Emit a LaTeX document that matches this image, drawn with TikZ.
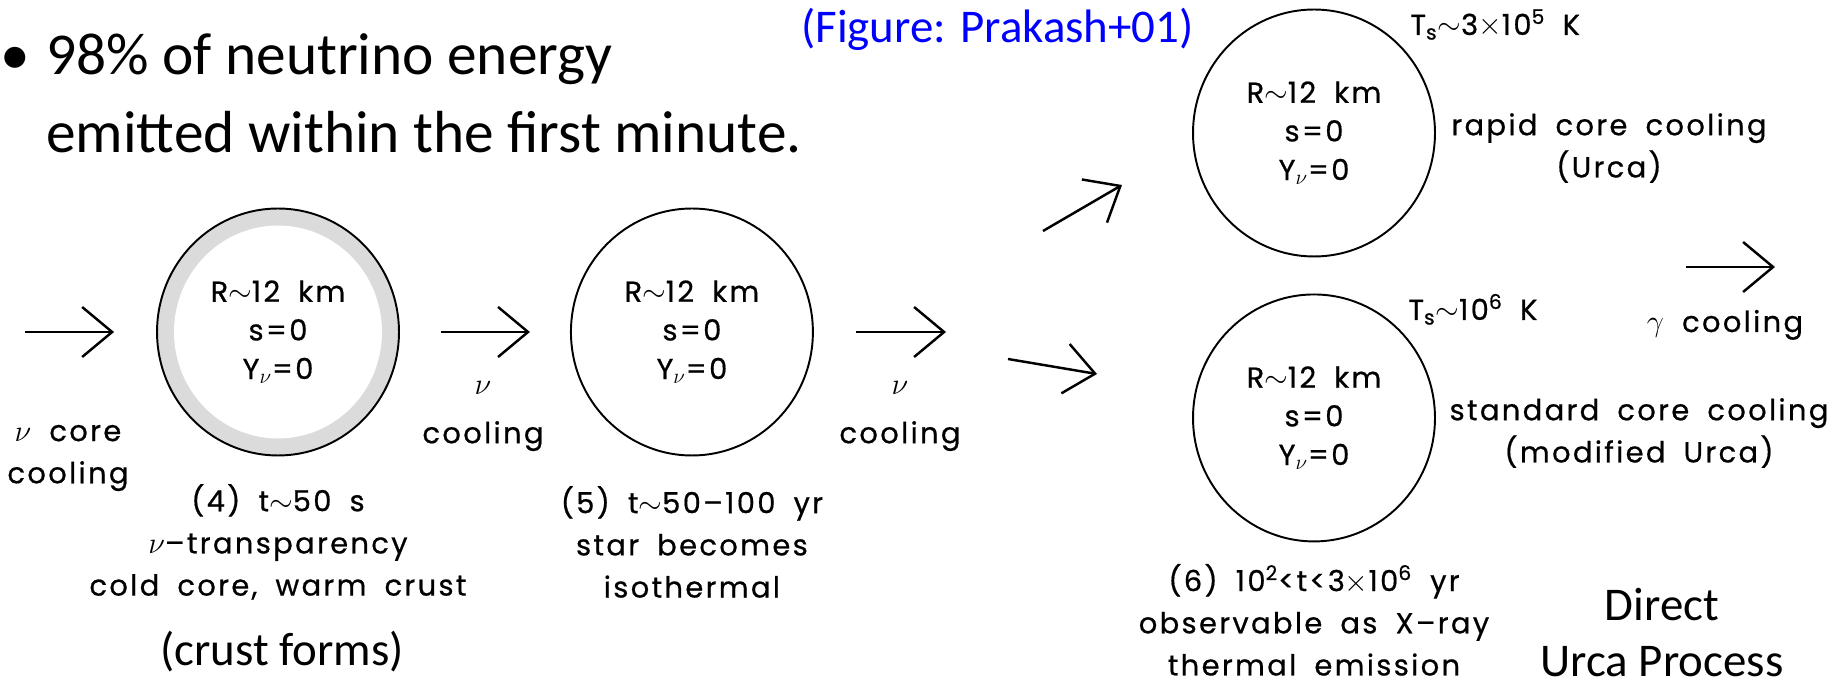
\documentclass[tikz,border=0pt]{standalone}
\usepackage{fontspec}
\setmainfont{Carlito}
\newfontfamily\figfont[LetterSpace=8, WordSpace=1.8, FakeBold=0.6]{Poppins}
\usepackage{tikz}
\usetikzlibrary{shapes.geometric, arrows.meta, positioning}

\newcommand{\tsim}{\ensuremath{\sim}}

\begin{document}
\begin{tikzpicture}[x=0.02cm, y=-0.02cm, on grid,
        ns/.style={ellipse, draw, line width=1.1pt, minimum width=4.84cm, minimum height=4.94cm,
            inner sep=0pt, align=center, font=\figfont\fontsize{16.5}{22}\selectfont},
        crust/.style={fill=black!14, path picture={\fill[white] (path picture bounding box.center)
            ellipse [x radius=2.08cm, y radius=2.13cm];}},
        lbl/.style={align=center, inner sep=0pt, font=\figfont\fontsize{16.5}{24}\selectfont},
        flow/.style={-{Straight Barb[length=0.6cm, width=1cm]}, line width=1.4pt},
        slide/.style={inner sep=0pt, font=\fontsize{33.8}{44}\selectfont},
        note/.style={inner sep=0pt, align=center, font=\fontsize{26.7}{31.9}\selectfont}]
    \useasboundingbox (0,0) rectangle (1840,685);

    % slide text
    \node[slide, anchor=base west] (dot) at (0,75) {•};
    \node[slide, anchor=base west] (line1) at (46,75) {98\% of neutrino energy};
    \node[slide, anchor=base west] (line2) at (46,153) {emitted within the first minute.};
    \node[note, anchor=base west, text=blue] (ref) at (801,43) {(Figure: Prakash+01)};

    % the stars
    \node[ns, crust] (s4) at (278,332) {R\tsim12 km\\s=0\\Y\textsubscript{$\nu$}=0};
    \node[ns] (s5) [right=8.28cm of s4] {R\tsim12 km\\s=0\\Y\textsubscript{$\nu$}=0};
    \node[ns] (s6a) at (1314,133) {R\tsim12 km\\s=0\\Y\textsubscript{$\nu$}=0};
    \node[ns] (s6b) [below=5.7cm of s6a] {R\tsim12 km\\s=0\\Y\textsubscript{$\nu$}=0};

    \coordinate (in) at (25,332);
    \coordinate (out) at (946,332);
    \coordinate (up0) at (1043,231);
    \coordinate (up1) at (1122,185);
    \coordinate (dn0) at (1008,359);
    \coordinate (dn1) at (1097,374);
    \coordinate (g0) at (1686,267);
    \coordinate (g1) at (1775,267);

    \draw[flow, shorten >=0.84cm] (in) -- (s4);
    \draw[flow, shorten <=0.82cm, shorten >=0.8cm] (s4) -- (s5);
    \draw[flow, shorten <=0.84cm] (s5) -- (out);
    \draw[flow] (up0) -- (up1);
    \draw[flow] (dn0) -- (dn1);
    \draw[flow] (g0) -- (g1);

    % labels
    \node[lbl] (c1) at (68,458) {$\nu$ core\\cooling};
    \node[lbl] (c2) at (483,416) {$\nu$\\[4pt]cooling};
    \node[lbl] (c3) at (900,416) {$\nu$\\[4pt]cooling};
    \node[lbl] (cap4) [below=4.2cm of s4] {(4) t\tsim50 s\\$\nu$\textendash transparency\\cold core, warm crust};
    \node[lbl] (cap5) [below=4.2cm of s5] {(5) t\tsim50\textendash 100 yr\\star becomes\\isothermal};
    \node[lbl] (cap6) [below=4.04cm of s6b] {(6) 10\textsuperscript{2}<t<3$\times$10\textsuperscript{6} yr\\observable as X\textendash ray\\thermal emission};
    \node[lbl, anchor=base west] (ts1) at (1410,35) {T\textsubscript{s}\tsim3$\times$10\textsuperscript{5}\hspace{0.6em}K};
    \node[lbl, anchor=base west] (ts2) at (1408,320) {T\textsubscript{s}\tsim10\textsuperscript{6}\hspace{0.6em}K};
    \node[lbl] (rapid) at (1609,148) {rapid core cooling\\(Urca)};
    \node[lbl] (std) at (1639,433) {standard core cooling\\(modified Urca)};
    \node[lbl, anchor=base] (gam) at (1725,332) {$\gamma$ cooling};

    \node[note, anchor=base] (crustnote) at (282,665) {(crust forms)};
    \node[note] (urca) at (1662,633) {Direct\\Urca Process};
\end{tikzpicture}
\end{document}
